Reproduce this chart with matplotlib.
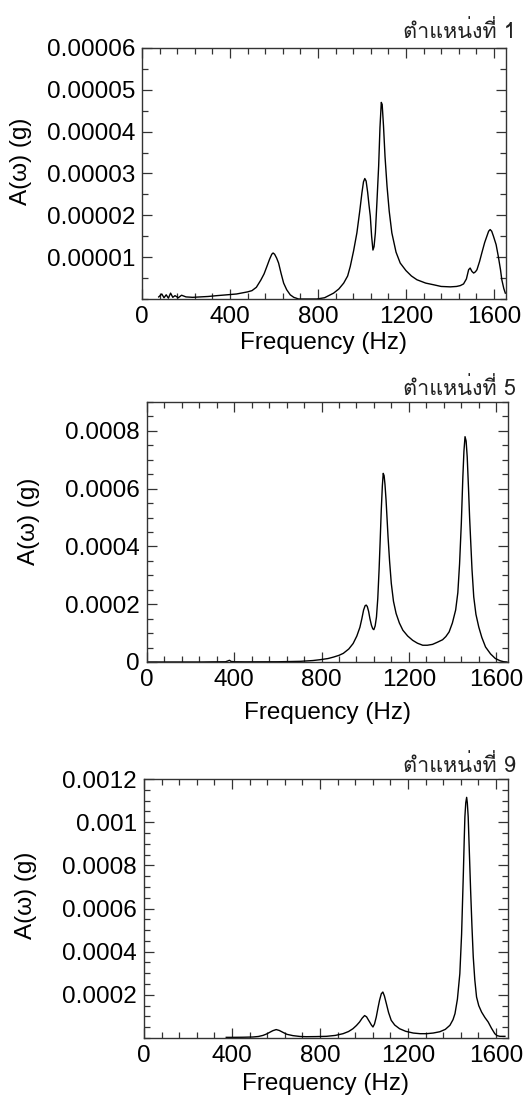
import matplotlib
matplotlib.use("Agg")
import matplotlib.pyplot as plt
from matplotlib import font_manager
from matplotlib.ft2font import FT2Font
from matplotlib.font_manager import FontProperties
from matplotlib.ticker import MultipleLocator, FixedLocator, FixedFormatter

# ---------------- data ----------------
titles = ["ตำแหน่งที่ 1", "ตำแหน่งที่ 5", "ตำแหน่งที่ 9"]
xlabel = "Frequency (Hz)"
ylabel = "A(ω) (g)"
xticks = [0, 400, 800, 1200, 1600]

freq1 = [76, 90, 100, 110, 120, 130, 140, 150, 165, 180, 200, 230, 265, 300, 340, 386, 430, 480, 500, 520,
         540, 555, 568, 580, 590, 596, 603, 612, 621, 632, 644, 658, 674, 690, 712, 795, 830, 871, 895,
         917, 935, 947, 962, 977, 990, 1000, 1007, 1013, 1019, 1026, 1032, 1038, 1044, 1050, 1055, 1061,
         1068, 1076, 1082, 1088, 1092, 1098, 1105, 1114, 1124, 1136, 1155, 1174, 1200, 1225, 1250, 1290,
         1326, 1360, 1402, 1430, 1447, 1462, 1475, 1485, 1492, 1500, 1508, 1516, 1523, 1535, 1545, 1558,
         1568, 1576, 1583, 1590, 1598, 1610, 1620, 1630, 1636, 1645, 1652]
amp1 = [0.05, 0.12, 0.03, 0.10, 0.02, 0.14, 0.04, 0.08, 0.03, 0.09, 0.05, 0.04, 0.05, 0.06, 0.08, 0.10, 0.12, 0.17, 0.20, 0.28,
        0.45, 0.60, 0.78, 0.95, 1.07, 1.10, 1.07, 0.98, 0.86, 0.62, 0.38, 0.22, 0.10, 0.04, 0.0, 0.0, 0.03, 0.14, 0.24,
        0.38, 0.55, 0.78, 1.15, 1.58, 2.10, 2.54, 2.80, 2.88, 2.82, 2.55, 2.25, 1.98, 1.50, 1.17, 1.25, 1.58,
        2.30, 3.18, 4.10, 4.70, 4.65, 4.14, 3.40, 2.70, 2.10, 1.58, 1.12, 0.86, 0.68, 0.55, 0.46, 0.38,
        0.34, 0.30, 0.29, 0.30, 0.32, 0.36, 0.48, 0.70, 0.74, 0.66, 0.62, 0.65, 0.70, 0.90, 1.10, 1.35,
        1.50, 1.62, 1.66, 1.62, 1.50, 1.30, 1.02, 0.70, 0.46, 0.25, 0.14]
amp1 = [v * 1e-5 for v in amp1]

freq5 = [0, 250, 300, 360, 372, 378, 385, 400, 450, 600, 703, 760, 794, 830, 855, 880, 900, 925, 945, 962,
         976, 985, 993, 1000, 1005, 1010, 1016, 1022, 1029, 1035, 1040, 1046, 1052, 1058, 1064, 1069, 1074,
         1079, 1083, 1087, 1091, 1096, 1101, 1105, 1112, 1120, 1130, 1142, 1157, 1173, 1195, 1218, 1240,
         1264, 1285, 1309, 1330, 1355, 1370, 1385, 1400, 1415, 1425, 1433, 1441, 1448, 1453, 1458, 1463,
         1468, 1474, 1479, 1483, 1490, 1498, 1508, 1521, 1535, 1552, 1575, 1597, 1620, 1635, 1650]
amp5 = [0.0, 0.0, 0.5, 0.8, 4.0, 6.0, 2.0, 0.8, 0.5, 0.8, 2.3, 5, 8, 12, 17, 23, 30, 45, 64, 90,
        120, 150, 180, 195, 197, 192, 175, 150, 127, 115, 112, 125, 156, 220, 320, 420, 526,
        610, 653, 645, 615, 560, 490, 434, 350, 272, 210, 168, 135, 110, 90, 75, 65,
        58, 58, 61, 68, 77, 88, 104, 135, 180, 240, 340, 480, 640, 730, 780, 765,
        710, 600, 500, 434, 320, 225, 165, 121, 85, 52, 28, 12, 4, 1, 0]
amp5 = [v * 1e-6 for v in amp5]

freq9 = [374, 400, 450, 495, 520, 541, 556, 571, 586, 601, 615, 632, 650, 677, 710, 738, 780, 829, 870,
         905, 930, 950, 966, 980, 992, 1003, 1012, 1020, 1026, 1034, 1041, 1048, 1056, 1064, 1071, 1079,
         1086, 1093, 1102, 1112, 1124, 1140, 1162, 1190, 1224, 1255, 1285, 1315, 1345, 1370, 1391, 1405,
         1414, 1425, 1436, 1444, 1452, 1456, 1459, 1463, 1467, 1470, 1474, 1479, 1485, 1491, 1497, 1504,
         1512, 1522, 1535, 1550, 1565, 1580, 1595, 1605, 1618, 1641]
amp9 = [3, 3, 3.5, 4.6, 7, 12, 18, 26, 34, 39, 35, 26, 17, 11, 7, 6, 6.5, 7.7, 12,
        20, 30, 43, 58, 74, 92, 104, 98, 84, 74, 60, 51, 65, 97, 140, 175, 205,
        213, 195, 159, 118, 82, 60, 43, 31, 23, 20, 20, 23, 29, 40, 59, 85,
        113, 180, 298, 480, 762, 920, 1025, 1090, 1115, 1090, 1025, 870, 685, 520, 376, 270,
        190, 150, 120, 95, 74, 45, 20, 11, 7.7, 7.7]
amp9 = [v * 1e-6 for v in amp9]

# ---------------- fonts ----------------
def find_thai_font():
    cands = []
    for f in font_manager.fontManager.ttflist:
        try:
            if 0x0E15 in FT2Font(f.fname).get_charmap():
                w = f.weight if isinstance(f.weight, int) else 400
                score = abs(w - 400) + (100 if f.style != "normal" else 0)
                score += 50 if "bold" in f.fname.lower() else 0
                cands.append((score, f.fname))
        except Exception:
            pass
    if cands:
        cands.sort()
        return cands[0][1]
    return None

thai_path = find_thai_font()

plt.rcParams["font.family"] = ["Liberation Sans", "DejaVu Sans"]

W, H = 524, 1104
fig = plt.figure(figsize=(W / 100, H / 100), dpi=100)

panels = [
    dict(rect=[142 / W, 1 - 299 / H, 364 / W, 251 / H], x=freq1, y=amp1,
         ylim=(0, 6e-5), yt=[1e-5, 2e-5, 3e-5, 4e-5, 5e-5, 6e-5],
         ytl=["0.00001", "0.00002", "0.00003", "0.00004", "0.00005", "0.00006"], ymin=0.5e-5,
         title_y=1 - 38 / H, ylab=(-0.302, 0.55), xlab=-0.131),
    dict(rect=[147 / W, 1 - 662 / H, 361 / W, 260 / H], x=freq5, y=amp5,
         ylim=(0, 9e-4), yt=[0, 2e-4, 4e-4, 6e-4, 8e-4],
         ytl=["0", "0.0002", "0.0004", "0.0006", "0.0008"], ymin=0.5e-4,
         title_y=1 - 395 / H, ylab=(-0.296, 0.54), xlab=-0.154),
    dict(rect=[144 / W, 1 - 1038 / H, 364 / W, 259 / H], x=freq9, y=amp9,
         ylim=(0, 1.2e-3), yt=[2e-4, 4e-4, 6e-4, 8e-4, 1e-3, 1.2e-3],
         ytl=["0.0002", "0.0004", "0.0006", "0.0008", "0.001", "0.0012"], ymin=0.5e-4,
         title_y=1 - 772 / H, ylab=(-0.294, 0.55), xlab=-0.135),
]

for p, title in zip(panels, titles):
    ax = fig.add_axes(p["rect"])
    ax.plot(p["x"], p["y"], color="black", lw=1.0)
    ax.set_xlim(0, 1655)
    ax.set_ylim(*p["ylim"])
    ax.xaxis.set_major_locator(FixedLocator(xticks))
    ax.set_xticklabels([str(t) for t in xticks])
    ax.xaxis.set_minor_locator(MultipleLocator(80))
    ax.yaxis.set_major_locator(FixedLocator(p["yt"]))
    ax.yaxis.set_major_formatter(FixedFormatter(p["ytl"]))
    ax.yaxis.set_minor_locator(MultipleLocator(p["ymin"]))
    ax.tick_params(which="both", direction="in", top=True, right=True,
                   labelsize=17.5, width=0.9, color="#333333", pad=5)
    ax.tick_params(which="major", length=7)
    ax.tick_params(which="minor", length=4)
    for s in ax.spines.values():
        s.set_linewidth(1.0)
        s.set_color("#333333")
    ax.set_xlabel(xlabel, fontsize=17.5)
    ax.set_ylabel(ylabel, fontsize=17.5)
    ax.xaxis.set_label_coords(0.5, p["xlab"])
    ax.yaxis.set_label_coords(*p["ylab"])
    if thai_path:
        fp = FontProperties(fname=thai_path, size=15.5)
        fig.text(0.985, p["title_y"], title, ha="right", va="baseline",
                 fontproperties=fp, color="#222222")
    else:
        fig.text(0.985, p["title_y"], title, ha="right", va="baseline",
                 fontsize=15.5, color="#222222")

fig.savefig("out.png", dpi=100)
